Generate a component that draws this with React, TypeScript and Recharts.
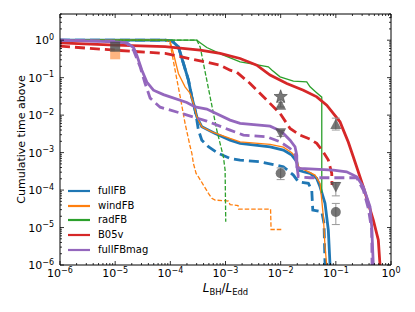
import React from 'react';
import { ComposedChart, Line, Scatter, XAxis, YAxis, Legend, ErrorBar, Label } from 'recharts';

const FONT = '"DejaVu Sans", Verdana, sans-serif';

// ---- series data: [L_BH/L_Edd, cumulative time above] ----
const fullFB: [number, number][] = [
  [1e-6, 1], [8.05e-5, 1], [1.08e-4, 0.94], [1.40e-4, 0.663], [1.73e-4, 0.239], [2.13e-4, 0.0858],
  [2.45e-4, 0.0308], [2.81e-4, 0.0136], [3.02e-4, 9.01e-3], [3.72e-4, 4.88e-3], [6.49e-4, 3.25e-3],
  [1.21e-3, 2.15e-3], [1.84e-3, 1.76e-3], [6.43e-3, 1.43e-3], [1.12e-2, 1.17e-3], [1.59e-2, 8.58e-4],
  [1.96e-2, 5.69e-4], [2.09e-2, 3.41e-4], [2.58e-2, 3.08e-4], [3.41e-2, 2.79e-4], [4.51e-2, 2.05e-4],
  [5.17e-2, 1.22e-4], [6.37e-2, 4.42e-5], [7.31e-2, 8.58e-6], [7.85e-2, 1e-6],
];
const fullFBdash: [number, number][] = [
  [1e-6, 1], [8.05e-5, 1], [1.08e-4, 0.94], [1.40e-4, 0.663], [1.73e-4, 0.239], [2.13e-4, 0.0858],
  [2.45e-4, 0.0308], [2.81e-4, 0.0136], [3.02e-4, 7.36e-3], [3.23e-4, 3.98e-3], [3.72e-4, 2.15e-3],
  [4.90e-4, 1.43e-3], [7.43e-4, 9.52e-4], [1.21e-3, 7.0e-4], [1.84e-3, 6.31e-4], [4.24e-3, 5.69e-4],
  [1.12e-2, 4.18e-4], [1.70e-2, 2.51e-4], [2.09e-2, 1.66e-4], [3.18e-2, 1.51e-4], [3.66e-2, 1.0e-4],
  [3.82e-2, 2.93e-5], [5.56e-2, 2.64e-5], [6.11e-2, 1.29e-5], [6.37e-2, 1e-6],
];
const windFB: [number, number][] = [
  [1e-6, 1], [9.12e-5, 1], [9.91e-5, 0.94], [1.14e-4, 0.442], [1.40e-4, 0.129], [1.85e-4, 0.0569],
  [2.29e-4, 0.0379], [2.62e-4, 0.0205], [3.02e-4, 9.01e-3], [3.72e-4, 4.88e-3], [5.65e-4, 3.59e-3],
  [1.21e-3, 2.39e-3], [1.84e-3, 1.94e-3], [6.43e-3, 1.66e-3], [1.12e-2, 1.40e-3], [1.59e-2, 9.89e-4],
  [1.96e-2, 7.0e-4], [2.09e-2, 4.18e-4], [2.77e-2, 3.41e-4], [4.20e-2, 2.51e-4], [5.17e-2, 1.51e-4],
  [5.56e-2, 5.41e-5], [5.94e-2, 1.94e-5], [6.37e-2, 3.08e-6], [6.84e-2, 1e-6],
];
const windFBdash: [number, number][] = [
  [1e-6, 1], [8.4e-5, 1], [9.91e-5, 0.817], [1.22e-4, 0.158], [1.51e-4, 0.0308], [1.85e-4, 6.01e-3],
  [2.29e-4, 1.43e-3], [2.45e-4, 9.7e-4], [2.62e-4, 5.15e-4], [2.93e-4, 2.79e-4], [3.23e-4, 2.26e-4],
  [3.98e-4, 1.36e-4], [4.90e-4, 8.17e-5], [5.65e-4, 6.01e-5], [6.49e-4, 5.41e-5], [1.13e-3, 5.09e-5],
  [1.21e-3, 4.10e-5], [1.69e-3, 3.86e-5], [1.73e-3, 3.11e-5], [6.56e-3, 3.11e-5], [6.70e-3, 8.85e-6],
  [1.06e-2, 8.85e-6],
];
const radFB: [number, number][] = [
  [1e-6, 1], [3.02e-4, 1], [3.47e-4, 0.858], [4.58e-4, 0.639], [9.16e-4, 0.398], [1.84e-3, 0.264],
  [3.20e-3, 0.229], [5.98e-3, 0.194], [6.98e-3, 0.158], [9.75e-3, 0.105], [1.70e-2, 0.0807],
  [2.97e-2, 0.0773], [3.41e-2, 0.0569], [4.38e-2, 0.041], [5.56e-2, 0.0302], [5.56e-2, 8.32e-5],
];
const radFBdash: [number, number][] = [
  [1e-6, 1], [3.02e-4, 1], [3.47e-4, 0.663], [3.98e-4, 0.239], [4.58e-4, 0.0858], [5.26e-4, 0.0308],
  [6.04e-4, 0.0111], [6.95e-4, 3.98e-3], [7.98e-4, 1.76e-3], [9.16e-4, 7.73e-4], [9.84e-4, 3.41e-4],
  [1.01e-3, 1.43e-5],
];
const B05v: [number, number][] = [
  [1e-6, 0.847], [1e-5, 0.736], [8.05e-5, 0.671], [3.47e-4, 0.541], [7.98e-4, 0.442], [1.84e-3, 0.325],
  [3.69e-3, 0.215], [6.43e-3, 0.117], [1.29e-2, 0.07], [2.58e-2, 0.0464], [4.51e-2, 0.0308],
  [6.84e-2, 0.0185], [0.119, 6.63e-3], [0.137, 3.98e-3], [0.168, 1.91e-3], [0.207, 7.73e-4],
  [0.315, 1.22e-4], [0.478, 1.58e-5], [0.589, 4.64e-6], [0.632, 1e-6],
];
const B05vdash: [number, number][] = [
  [1e-6, 0.692], [1e-5, 0.541], [8.05e-5, 0.442], [4.27e-4, 0.264], [7.98e-4, 0.215], [1.21e-3, 0.158],
  [1.60e-3, 0.14], [2.79e-3, 0.07], [5.60e-3, 0.0251], [9.75e-3, 0.0111], [1.48e-2, 4.42e-3],
  [2.24e-2, 2.93e-3], [3.41e-2, 2.29e-3], [4.51e-2, 1.76e-3], [5.94e-2, 1.03e-3], [7.31e-2, 6.31e-4],
  [8.43e-2, 2.79e-4], [8.53e-2, 1.36e-4],
];
const fullFBmag: [number, number][] = [
  [1e-6, 1], [1e-5, 0.9], [1.63e-5, 0.847], [2.15e-5, 0.639], [2.47e-5, 0.398], [3.05e-5, 0.158],
  [3.75e-5, 0.0759], [4.94e-5, 0.0464], [7.5e-5, 0.0352], [1.99e-4, 0.0218], [2.81e-4, 0.0166],
  [4.58e-4, 0.0145], [1.21e-3, 7.36e-3], [1.84e-3, 6.01e-3], [6.43e-3, 5.09e-3], [8.49e-3, 4.23e-3],
  [1.12e-2, 3.25e-3], [1.48e-2, 2.15e-3], [1.82e-2, 1.43e-3], [1.96e-2, 8.58e-4], [1.96e-2, 4.18e-4],
  [2.24e-2, 3.79e-4], [9.02e-2, 3.41e-4], [0.157, 3.08e-4], [0.239, 2.26e-4], [0.315, 1.22e-4],
  [0.417, 3.59e-5], [0.447, 1.05e-5], [0.478, 1e-6],
];
const fullFBmagdash: [number, number][] = [
  [1e-6, 1], [1e-5, 0.94], [1.63e-5, 0.832], [2.15e-5, 0.541], [2.84e-5, 0.194], [3.49e-5, 0.07],
  [4.31e-5, 0.0284], [6.53e-5, 0.0163], [1.61e-4, 0.0111], [4.58e-4, 6.92e-3], [1.21e-3, 3.98e-3],
  [2.11e-3, 2.93e-3], [5.60e-3, 2.64e-3], [9.75e-3, 1.94e-3], [1.48e-2, 1.29e-3], [1.82e-2, 9.12e-4],
  [1.96e-2, 4.64e-4], [2.09e-2, 2.26e-4], [3.41e-2, 2.13e-4], [0.239, 2.13e-4], [0.315, 1.0e-4],
  [0.388, 3.25e-5], [0.447, 8.58e-6], [0.453, 1e-6],
];

// ---- observational markers ----
const obsSquarePeach = [{ x: 1e-5, y: 0.42 }];
const obsSquare = [{ x: 1e-5, y: 0.67 }];
const obsStar = [{ x: 1e-2, y: 0.031 }];
const obsTriUp = [
  { x: 1e-2, y: 0.019, err: [2.5e-3, 3e-3] },
  { x: 1e-1, y: 5.8e-3, err: [1.8e-3, 2.5e-3] },
];
const obsTriDown = [
  { x: 1e-2, y: 3.3e-3, err: [6e-4, 6e-4] },
  { x: 1e-1, y: 1.2e-4, err: [5e-5, 4e-5] },
];
const obsCircle = [
  { x: 1e-2, y: 2.8e-4, err: [9e-5, 1.1e-4] },
  { x: 1e-1, y: 2.6e-5, err: [1.4e-5, 1.8e-5] },
];

// ---- ticks ----
const xDecades = [1e-6, 1e-5, 1e-4, 1e-3, 1e-2, 1e-1, 1];
const yDecades = [1e-6, 1e-5, 1e-4, 1e-3, 1e-2, 1e-1, 1];
const minorMult = [2, 3, 4, 5, 6, 7, 8, 9];
const xTicks = [...xDecades, ...xDecades.slice(0, -1).flatMap((d) => minorMult.map((m) => m * d))];
const yTicks = [...yDecades, ...yDecades.flatMap((d) => minorMult.map((m) => m * d)).filter((v) => v <= 5.0001)];

const legendOrder = ['fullFB', 'windFB', 'radFB', 'B05v', 'fullFBmag'];

const C = { blue: '#1f77b4', orange: '#ff7f0e', green: '#2ca02c', red: '#d62728', purple: '#9467bd' };

const toPts = (a: [number, number][]) => a.map(([x, y]) => ({ x, y }));

const isMajor = (v: number) => Math.abs(Math.log10(v) - Math.round(Math.log10(v))) < 1e-6;
const expText = (v: number) => {
  const e = Math.round(Math.log10(v));
  return e < 0 ? '\u2212' + -e : String(e);
};

const MAJ = 4;
const MIN = 2;

const BottomTick = (p: any) => {
  const { x, y, payload } = p;
  const v = payload.value;
  const major = isMajor(v);
  return (
    <g>
      <line x1={x} x2={x} y1={y} y2={y - (major ? MAJ : MIN)} stroke="#000" strokeWidth={0.8} />
      {major && (
        <text x={x} y={y + 12} textAnchor="middle" fontFamily={FONT} fontSize={11} fill="#000">
          <tspan>10</tspan>
          <tspan dy={-4.5} fontSize={8}>{expText(v)}</tspan>
        </text>
      )}
    </g>
  );
};
const TopTick = (p: any) => {
  const { x, y, payload } = p;
  const major = isMajor(payload.value);
  return <line x1={x} x2={x} y1={y} y2={y + (major ? MAJ : MIN)} stroke="#000" strokeWidth={0.8} />;
};
const LeftTick = (p: any) => {
  const { x, y, payload } = p;
  const v = payload.value;
  const major = isMajor(v);
  return (
    <g>
      <line x1={x} x2={x + (major ? MAJ : MIN)} y1={y} y2={y} stroke="#000" strokeWidth={0.8} />
      {major && (
        <text x={x - 6} y={y + 4} textAnchor="end" fontFamily={FONT} fontSize={11} fill="#000">
          <tspan>10</tspan>
          <tspan dy={-4.5} fontSize={8}>{expText(v)}</tspan>
        </text>
      )}
    </g>
  );
};
const RightTick = (p: any) => {
  const { x, y, payload } = p;
  const major = isMajor(payload.value);
  return <line x1={x} x2={x - (major ? MAJ : MIN)} y1={y} y2={y} stroke="#000" strokeWidth={0.8} />;
};

const XLabel = (p: any) => {
  const vb = p.viewBox;
  const cx = vb.x + vb.width / 2;
  return (
    <text x={cx} y={vb.y + 27} textAnchor="middle" fontFamily={FONT} fontSize={12} fill="#000">
      <tspan fontStyle="italic">L</tspan>
      <tspan fontSize={8.4} dy={2.5}>BH</tspan>
      <tspan dy={-2.5}>/</tspan>
      <tspan fontStyle="italic">L</tspan>
      <tspan fontSize={8.4} dy={2.5}>Edd</tspan>
    </text>
  );
};
const YLabel = (p: any) => {
  const vb = p.viewBox;
  const cx = vb.x + 25;
  const cy = vb.y + vb.height / 2;
  return (
    <text x={cx} y={cy} transform={`rotate(-90, ${cx}, ${cy})`} textAnchor="middle" fontFamily={FONT} fontSize={11} fill="#000">
      Cumulative time above
    </text>
  );
};

const MFILL = '#4a4a4a';
const MOP = 0.75;

const starPath = (cx: number, cy: number, R: number, r: number) => {
  let d = '';
  for (let i = 0; i < 10; i++) {
    const ang = -Math.PI / 2 + (i * Math.PI) / 5;
    const rad = i % 2 === 0 ? R : r;
    d += (i === 0 ? 'M' : 'L') + (cx + rad * Math.cos(ang)).toFixed(2) + ',' + (cy + rad * Math.sin(ang)).toFixed(2);
  }
  return d + 'Z';
};

const StarShape = (p: any) => <path d={starPath(p.cx, p.cy, 7, 2.9)} fill={MFILL} fillOpacity={MOP} stroke="#333" strokeWidth={0.5} />;
const TriUpShape = (p: any) => (
  <path d={`M${p.cx},${p.cy - 5.5}L${p.cx - 5.5},${p.cy + 5}L${p.cx + 5.5},${p.cy + 5}Z`} fill={MFILL} fillOpacity={MOP} />
);
const TriDownShape = (p: any) => (
  <path d={`M${p.cx},${p.cy + 5.5}L${p.cx - 5.5},${p.cy - 5}L${p.cx + 5.5},${p.cy - 5}Z`} fill={MFILL} fillOpacity={MOP} />
);
const CircleShape = (p: any) => <circle cx={p.cx} cy={p.cy} r={5} fill={MFILL} fillOpacity={MOP} />;
const SquareShape = (p: any) => <rect x={p.cx - 5} y={p.cy - 5} width={10} height={10} fill={MFILL} fillOpacity={0.8} />;
const PeachSquareShape = (p: any) => <rect x={p.cx - 5} y={p.cy - 5} width={10} height={10} fill="#ffa86a" fillOpacity={0.85} />;

const renderLegend = (props: any) => {
  const items = (props.payload || [])
    .filter((it: any) => legendOrder.includes(it.value))
    .sort((a: any, b: any) => legendOrder.indexOf(a.value) - legendOrder.indexOf(b.value));
  return (
    <div style={{ fontFamily: FONT, fontSize: 10, color: '#000' }}>
      {items.map((it: any) => (
        <div key={it.value} style={{ display: 'flex', alignItems: 'center', height: 14.7 }}>
          <svg width={22} height={6} style={{ display: 'block' }}>
            <line x1={0} x2={22} y1={3} y2={3} stroke={it.color} strokeWidth={2.2} />
          </svg>
          <span style={{ marginLeft: 8, lineHeight: '12px' }}>{it.value}</span>
        </div>
      ))}
    </div>
  );
};

const THICK = 2.8;
const THIN = 1.3;

export default function App() {
  return (
    <div style={{ position: 'absolute', left: 0, top: 0, width: 415, height: 312, background: '#fff' }}>
      <ComposedChart width={415} height={312} margin={{ top: 0, right: 0, bottom: 0, left: 0 }}>
        <XAxis
          dataKey="x" type="number" scale="log" domain={[1e-6, 1]} allowDataOverflow
          ticks={xTicks} interval={0} tick={BottomTick} tickLine={false} tickSize={0} tickMargin={0}
          axisLine={{ stroke: '#000', strokeWidth: 1 }} height={47}
        >
          <Label content={XLabel} />
        </XAxis>
        <XAxis
          xAxisId="top" orientation="top" dataKey="x" type="number" scale="log" domain={[1e-6, 1]} allowDataOverflow
          ticks={xTicks} interval={0} tick={TopTick} tickLine={false} tickSize={0} tickMargin={0}
          axisLine={{ stroke: '#000', strokeWidth: 1 }} height={14}
        />
        <YAxis
          type="number" scale="log" domain={[1e-6, 5]} allowDataOverflow
          ticks={yTicks} interval={0} tick={LeftTick} tickLine={false} tickSize={0} tickMargin={0}
          axisLine={{ stroke: '#000', strokeWidth: 1 }} width={60}
        >
          <Label content={YLabel} />
        </YAxis>
        <YAxis
          yAxisId="right" orientation="right" type="number" scale="log" domain={[1e-6, 5]} allowDataOverflow
          ticks={yTicks} interval={0} tick={RightTick} tickLine={false} tickSize={0} tickMargin={0}
          axisLine={{ stroke: '#000', strokeWidth: 1 }} width={24}
        />

        <Line data={toPts(fullFB)} dataKey="y" name="fullFB" stroke={C.blue} strokeWidth={THICK} dot={false} activeDot={false} isAnimationActive={false} type="linear" />
        <Line data={toPts(fullFBdash)} dataKey="y" name="fullFB dashed" legendType="none" stroke={C.blue} strokeWidth={THICK} strokeDasharray="10 5" dot={false} activeDot={false} isAnimationActive={false} type="linear" />
        <Line data={toPts(windFB)} dataKey="y" name="windFB" stroke={C.orange} strokeWidth={THIN} dot={false} activeDot={false} isAnimationActive={false} type="linear" />
        <Line data={toPts(windFBdash)} dataKey="y" name="windFB dashed" legendType="none" stroke={C.orange} strokeWidth={THIN} strokeDasharray="4.5 2" dot={false} activeDot={false} isAnimationActive={false} type="linear" />
        <Line data={toPts(radFB)} dataKey="y" name="radFB" stroke={C.green} strokeWidth={THIN} dot={false} activeDot={false} isAnimationActive={false} type="linear" />
        <Line data={toPts(radFBdash)} dataKey="y" name="radFB dashed" legendType="none" stroke={C.green} strokeWidth={THIN} strokeDasharray="4.5 2" dot={false} activeDot={false} isAnimationActive={false} type="linear" />
        <Line data={toPts(B05v)} dataKey="y" name="B05v" stroke={C.red} strokeWidth={THICK} dot={false} activeDot={false} isAnimationActive={false} type="linear" />
        <Line data={toPts(B05vdash)} dataKey="y" name="B05v dashed" legendType="none" stroke={C.red} strokeWidth={THICK} strokeDasharray="10 5" dot={false} activeDot={false} isAnimationActive={false} type="linear" />
        <Line data={toPts(fullFBmag)} dataKey="y" name="fullFBmag" stroke={C.purple} strokeWidth={THICK} dot={false} activeDot={false} isAnimationActive={false} type="linear" />
        <Line data={toPts(fullFBmagdash)} dataKey="y" name="fullFBmag dashed" legendType="none" stroke={C.purple} strokeWidth={THICK} strokeDasharray="10 5" dot={false} activeDot={false} isAnimationActive={false} type="linear" />

        <Scatter data={obsSquarePeach} dataKey="y" legendType="none" shape={PeachSquareShape} isAnimationActive={false} />
        <Scatter data={obsSquare} dataKey="y" legendType="none" shape={SquareShape} isAnimationActive={false} />
        <Scatter data={obsStar} dataKey="y" legendType="none" shape={StarShape} isAnimationActive={false} />
        <Scatter data={obsTriUp} dataKey="y" legendType="none" shape={TriUpShape} isAnimationActive={false}>
          <ErrorBar dataKey="err" direction="y" width={4} stroke="#999" strokeWidth={1} />
        </Scatter>
        <Scatter data={obsTriDown} dataKey="y" legendType="none" shape={TriDownShape} isAnimationActive={false}>
          <ErrorBar dataKey="err" direction="y" width={4} stroke="#999" strokeWidth={1} />
        </Scatter>
        <Scatter data={obsCircle} dataKey="y" legendType="none" shape={CircleShape} isAnimationActive={false}>
          <ErrorBar dataKey="err" direction="y" width={4} stroke="#999" strokeWidth={1} />
        </Scatter>

        <Legend
          layout="vertical" align="center" verticalAlign="middle" content={renderLegend}
          wrapperStyle={{ left: 68, top: 183.6, width: 120 }}
        />
      </ComposedChart>
    </div>
  );
}
